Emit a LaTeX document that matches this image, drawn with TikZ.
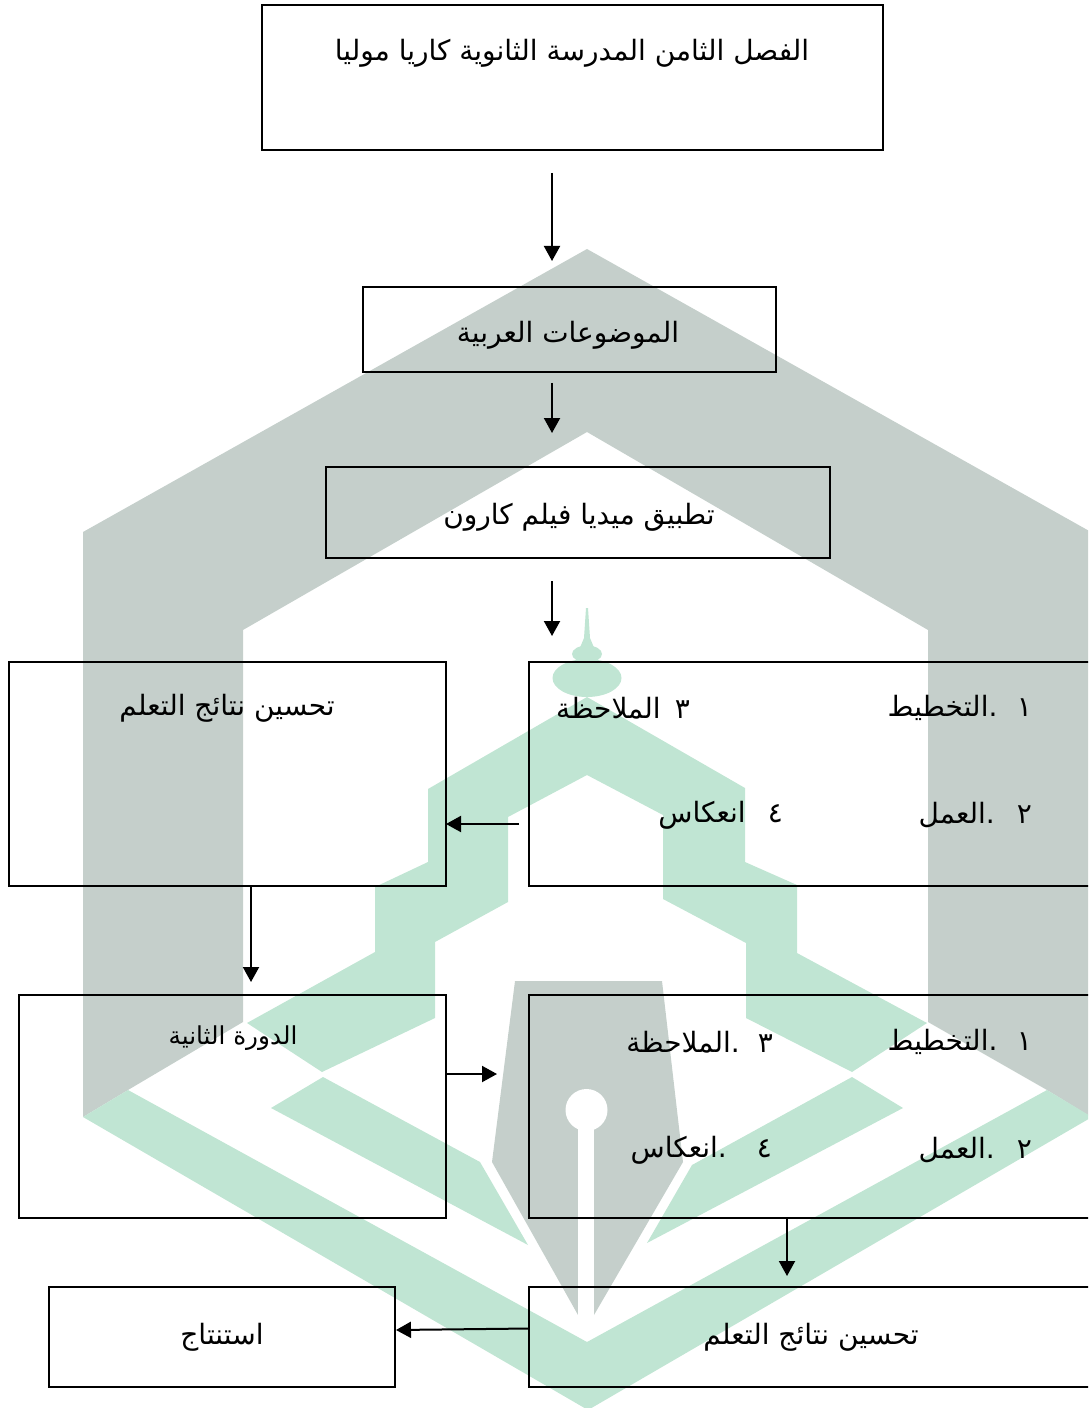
\documentclass[tikz,border=0pt]{standalone}
\usepackage{fontspec}
\usetikzlibrary{arrows.meta}
\TeXXeTstate=1
\newfontfamily\arabicfont[Script=Arabic]{DejaVu Sans}
\newcommand{\artext}[1]{\beginR #1\endR}
\definecolor{wmgray}{RGB}{197,207,203}
\definecolor{wmgreen}{RGB}{192,229,211}
\tikzset{
  boxnode/.style={draw=black,line width=1.5pt,inner sep=0pt,outer sep=0pt,fill=none},
  arr/.style={draw=black,line width=1.5pt,-{Triangle[length=11.25pt,width=12pt]},shorten >=0pt},
  lbl/.style={inner sep=0pt,outer sep=0pt,text=black,font=\arabicfont\fontsize{21}{24}\selectfont},
  lblsmall/.style={inner sep=0pt,outer sep=0pt,text=black,font=\arabicfont\fontsize{18.5}{21}\selectfont},
}
\newcommand{\mybox}[5]{\node[boxnode,minimum width={(#4-#2)*0.75pt},minimum height={(#5-#3)*0.75pt}] (#1) at ({(#2+#4)/2},{(#3+#5)/2}) {};}
\begin{document}
\begin{tikzpicture}[x=0.75pt,y=-0.75pt]
\useasboundingbox (0,0) rectangle (1088,1408);
\clip (0,0) rectangle (1088,1408);
% watermark
\fill[wmgray] (587,249) -- (1091,532) -- (1091,1117) -- (1047,1090) -- (928,1022) -- (928,630) -- (587,432) -- (243,630) -- (243,1022) -- (128,1090) -- (83,1117) -- (83,532) -- cycle;
\fill[wmgreen] (83,1117) -- (128,1090) -- (587,1342) -- (1047,1090) -- (1092,1117) -- (588,1410) -- cycle;
\fill[wmgreen] (587,697) -- (428,789) -- (428,862) -- (375,887) -- (375,952) -- (247,1023) -- (322,1072) -- (435,1018) -- (435,942) -- (508,902) -- (508,817) -- (587,775) -- (663,815) -- (663,899) -- (746,943) -- (746,1018) -- (852,1072) -- (927,1023) -- (797,953) -- (797,885) -- (745,862) -- (745,788) -- cycle;
\fill[wmgreen] (271,1108) -- (323,1077) -- (480,1162) -- (528,1245) -- cycle;
\fill[wmgreen] (903,1108) -- (852,1077) -- (692,1165) -- (647,1243) -- cycle;
\fill[wmgreen] (587,678) ellipse [x radius=34.5,y radius=19];
\fill[wmgreen] (587,654) ellipse [x radius=15,y radius=8.5];
\fill[wmgreen] (586,608) -- (588,608) -- (590,638) -- (595,650) -- (579,650) -- (584,638) -- cycle;
\fill[wmgray] (515,981) -- (662,981) -- (683,1162) -- (594,1315) -- (578,1315) -- (492,1162) -- cycle;
\fill[white] (578,1120) rectangle (594,1316);
\fill[white] (586.5,1110) circle [radius=21];
% boxes
\mybox{bClass}{262}{5}{883}{150}
\mybox{bSubject}{363}{287}{776}{372}
\mybox{bMedia}{326}{467}{830}{558}
\mybox{bImproveA}{9}{662}{446}{886}
\mybox{bCycleA}{529}{662}{1094}{886}
\mybox{bSecond}{19}{995}{446}{1218}
\mybox{bCycleB}{529}{995}{1094}{1218}
\mybox{bConcl}{49}{1287}{395}{1387}
\mybox{bImproveB}{529}{1287}{1094}{1387}
% labels
\node[lbl] (tClass) at (572,53) {\artext{الفصل الثامن المدرسة الثانوية كاريا موليا}};
\node[lbl] (tSubject) at (568,335) {\artext{الموضوعات العربية}};
\node[lbl] (tMedia) at (579,517) {\artext{تطبيق ميديا فيلم كارون}};
\node[lbl] (tImproveA) at (227,708) {\artext{تحسين نتائج التعلم}};
\node[lbl,anchor=east] (tA1) at (1032,708) {\artext{١\hspace{8pt} .التخطيط}};
\node[lbl,anchor=east] (tA3) at (690,708) {\artext{٣\hspace{4pt} الملاحظة}};
\node[lbl,anchor=east] (tA2) at (1032,815) {\artext{٢\hspace{10pt} .العمل}};
\node[lbl,anchor=east] (tA4) at (783,815) {\artext{٤\hspace{10pt} انعكاس}};
\node[lblsmall] (tSecond) at (233,1038) {\artext{الدورة الثانية}};
\node[lbl,anchor=east] (tB1) at (1032,1042) {\artext{١\hspace{8pt} .التخطيط}};
\node[lbl,anchor=east] (tB3) at (773,1042) {\artext{٣\hspace{7pt} .الملاحظة}};
\node[lbl,anchor=east] (tB2) at (1032,1150) {\artext{٢\hspace{10pt} .العمل}};
\node[lbl,anchor=east] (tB4) at (772,1150) {\artext{٤\hspace{16pt} .انعكاس}};
\node[lbl] (tConcl) at (222,1337) {\artext{استنتاج}};
\node[lbl] (tImproveB) at (811,1337) {\artext{تحسين نتائج التعلم}};
% connector ends
\coordinate (a1s) at (552,173); \coordinate (a1e) at (552,261);
\coordinate (a2s) at (552,383); \coordinate (a2e) at (552,433);
\coordinate (a3s) at (552,581); \coordinate (a3e) at (552,636);
\coordinate (a4s) at (519,824); \coordinate (a4e) at (446,824);
\coordinate (a5s) at (251,886); \coordinate (a5e) at (251,982);
\coordinate (a6s) at (446,1074); \coordinate (a6e) at (497,1074);
\coordinate (a7s) at (787,1218); \coordinate (a7e) at (787,1276);
\coordinate (a8s) at (529,1328.5); \coordinate (a8e) at (396,1330);
\draw[arr] (a1s) -- (a1e);
\draw[arr] (a2s) -- (a2e);
\draw[arr] (a3s) -- (a3e);
\draw[arr] (a4s) -- (a4e);
\draw[arr] (a5s) -- (a5e);
\draw[arr] (a6s) -- (a6e);
\draw[arr] (a7s) -- (a7e);
\draw[arr] (a8s) -- (a8e);
\end{tikzpicture}
\end{document}
